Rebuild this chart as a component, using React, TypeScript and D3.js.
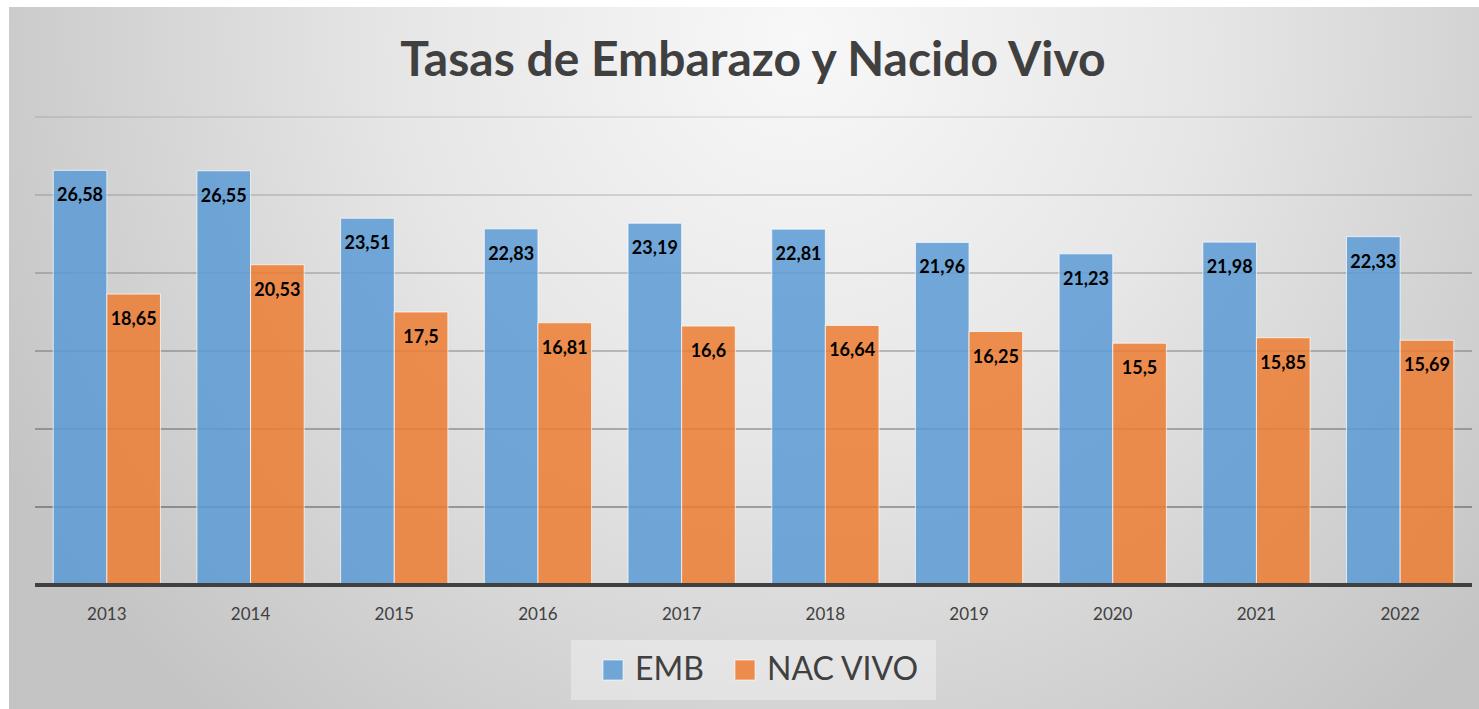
import React from "react";
import * as d3 from "d3";

const years = ["2013", "2014", "2015", "2016", "2017", "2018", "2019", "2020", "2021", "2022"];
const emb = [26.58, 26.55, 23.51, 22.83, 23.19, 22.81, 21.96, 21.23, 21.98, 22.33];
const nacVivo = [18.65, 20.53, 17.5, 16.81, 16.6, 16.64, 16.25, 15.5, 15.85, 15.69];
const seriesNames = ["EMB", "NAC VIVO"];
const yTicks = [0, 5, 10, 15, 20, 25, 30];

const colors = ["#5b9bd5", "#ed7d31"];
const font = "Lato, 'Open Sans', sans-serif";
const textColor = "#404040";

const W = 1479;
const H = 709;

const App = () => {
  // plot area
  const left = 35,
    right = 1472,
    top = 117,
    bottom = 585;

  const x0 = d3.scaleBand().domain(years).range([left, right]).padding(0);
  const x1 = d3
    .scaleBand()
    .domain(seriesNames)
    .range([0, x0.bandwidth()])
    .paddingInner(0)
    .paddingOuter(0.34);
  const y = d3.scaleLinear().domain([0, 30]).range([bottom, top]);

  const rows = years.map((yr, i) => ({ year: yr, values: [emb[i], nacVivo[i]] }));
  const fmt = (v: number) => String(v).replace(".", ",");

  return (
    <svg
      width={W}
      height={H}
      style={{ position: "absolute", left: 0, top: 0 }}
    >
      <defs>
        <radialGradient id="bg" gradientUnits="userSpaceOnUse" cx={800} cy={40} r={900}>
          <stop offset="0" stopColor="#f8f8f8" />
          <stop offset="0.45" stopColor="#e6e6e6" />
          <stop offset="1" stopColor="#c4c4c4" />
        </radialGradient>
      </defs>
      <rect x={0} y={0} width={W} height={H} fill="#fff" />
      <rect x={9} y={7} width={W - 9} height={H - 7} fill="url(#bg)" />

      {/* title */}
      <text
        x={753}
        y={76}
        textAnchor="middle"
        fontFamily={font}
        fontWeight="bold"
        fontSize={48}
        fill={textColor}
      >
        Tasas de Embarazo y Nacido Vivo
      </text>

      {/* gridlines */}
      <g>
        {yTicks
          .filter((t) => t > 0)
          .map((t) => (
            <line
              key={t}
              x1={left}
              x2={right}
              y1={y(t)}
              y2={y(t)}
              stroke="#000"
              strokeOpacity={0.08 + 0.27 * (1 - t / 30)}
              strokeWidth={2}
            />
          ))}
      </g>

      {/* bars */}
      <g>
        {rows.map((r) => (
          <g key={r.year} transform={`translate(${x0(r.year)},0)`}>
            {r.values.map((v, j) => (
              <rect
                key={j}
                x={x1(seriesNames[j])}
                y={y(v)}
                width={x1.bandwidth()}
                height={y(0) - y(v)}
                fill={colors[j]}
                fillOpacity={0.85}
                stroke="#fff"
                strokeOpacity={0.7}
                strokeWidth={1}
              />
            ))}
            {r.values.map((v, j) => (
              <text
                key={"l" + j}
                x={(x1(seriesNames[j]) as number) + x1.bandwidth() / 2}
                y={y(v) + 31}
                textAnchor="middle"
                fontFamily={font}
                fontWeight="bold"
                fontSize={18}
                fill="#000"
              >
                {fmt(v)}
              </text>
            ))}
          </g>
        ))}
      </g>

      {/* x axis */}
      <line x1={left} x2={right} y1={bottom} y2={bottom} stroke="#404040" strokeWidth={4} />
      <g>
        {years.map((yr) => (
          <text
            key={yr}
            x={(x0(yr) as number) + x0.bandwidth() / 2}
            y={620}
            textAnchor="middle"
            fontFamily={font}
            fontSize={17}
            fill={textColor}
          >
            {yr}
          </text>
        ))}
      </g>

      {/* legend */}
      <g>
        <rect x={571} y={640} width={365} height={60} fill="#fff" fillOpacity={0.35} />
        <rect x={603} y={660} width={20} height={20} fill={colors[0]} fillOpacity={0.85} stroke="#fff" strokeOpacity={0.6} />
        <text x={635} y={680} fontFamily={font} fontSize={32} fill={textColor}>
          {seriesNames[0]}
        </text>
        <rect x={735} y={660} width={20} height={20} fill={colors[1]} fillOpacity={0.85} stroke="#fff" strokeOpacity={0.6} />
        <text x={767} y={680} fontFamily={font} fontSize={32} fill={textColor}>
          {seriesNames[1]}
        </text>
      </g>
    </svg>
  );
};

export default App;
